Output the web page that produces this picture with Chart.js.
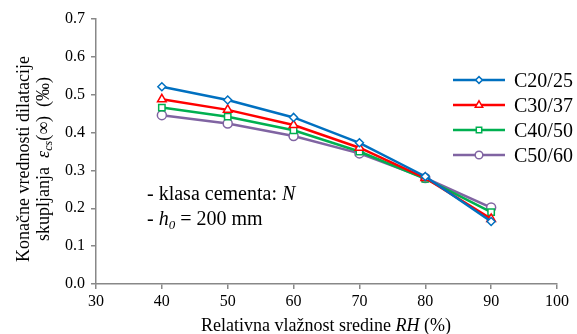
<!DOCTYPE html>
<html>
<head>
<meta charset="utf-8">
<script src="https://cdn.jsdelivr.net/npm/chart.js@4"></script>
<style>
  html, body { margin: 0; padding: 0; background: #fff; }
  #wrap { width: 577px; height: 334px; }
</style>
</head>
<body>
<div id="wrap"><canvas id="shrinkChart" width="577" height="334"></canvas></div>
<script>
// relative humidity RH (%)
const rh = [40, 50, 60, 70, 80, 90];
const c2025 = [0.521, 0.486, 0.440, 0.373, 0.284, 0.165];
const c3037 = [0.488, 0.460, 0.420, 0.360, 0.280, 0.172];
const c4050 = [0.466, 0.442, 0.406, 0.350, 0.278, 0.190];
const c5060 = [0.446, 0.424, 0.391, 0.345, 0.280, 0.202];
const seriesNames = ['C20/25', 'C30/37', 'C40/50', 'C50/60'];
const xTicks = [30, 40, 50, 60, 70, 80, 90, 100];
const yTicks = [0.0, 0.1, 0.2, 0.3, 0.4, 0.5, 0.6, 0.7];

const serif = '"Liberation Serif", "DejaVu Serif", serif';
const axisGray = '#888888';

function pts(vals) {
    return rh.map((x, i) => ({ x: x, y: vals[i] }));
}

function makeSet(label, vals, color, style, radius) {
    return {
        label: label,
        data: pts(vals),
        borderColor: color,
        backgroundColor: '#ffffff',
        pointBorderColor: color,
        pointBackgroundColor: '#ffffff',
        pointStyle: style,
        pointRadius: radius,
        pointBorderWidth: 1.5,
        borderWidth: 2.5,
        tension: 0
    };
}

// draw a run of text pieces [text, font, dy]
function drawRich(ctx, parts, x, y) {
    let cx = x;
    parts.forEach(p => {
        ctx.font = p[1];
        ctx.fillText(p[0], cx, y + (p[2] || 0));
        cx += ctx.measureText(p[0]).width;
    });
    return cx - x;
}
function richWidth(ctx, parts) {
    let w = 0;
    parts.forEach(p => { ctx.font = p[1]; w += ctx.measureText(p[0]).width; });
    return w;
}

const extras = {
    id: 'extras',
    afterDraw(chart) {
        const ctx = chart.ctx;
        ctx.save();
        ctx.fillStyle = '#000';
        ctx.textBaseline = 'alphabetic';
        ctx.textAlign = 'left';

        // legend
        const lx = 453, lw = 52, tx = 514;
        const rows = [80, 105, 130, 155];
        chart.data.datasets.forEach((ds, i) => {
            const y = rows[i];
            ctx.strokeStyle = ds.borderColor;
            ctx.lineWidth = ds.borderWidth;
            ctx.beginPath();
            ctx.moveTo(lx, y);
            ctx.lineTo(lx + lw, y);
            ctx.stroke();
            ctx.lineWidth = ds.pointBorderWidth;
            ctx.fillStyle = '#fff';
            Chart.helpers.drawPoint(ctx, {
                pointStyle: ds.pointStyle,
                radius: ds.pointRadius * 0.85,
                borderWidth: ds.pointBorderWidth
            }, lx + lw / 2, y);
            ctx.fillStyle = '#000';
            ctx.font = '20px ' + serif;
            ctx.fillText(ds.label, tx, y + 7);
        });

        // annotation
        const f = '20px ' + serif;
        const fi = 'italic 20px ' + serif;
        const fs = 'italic 13px ' + serif;
        ctx.fillStyle = '#000';
        drawRich(ctx, [['- klasa cementa: ', f], ['N', fi]], 147, 200);
        drawRich(ctx, [['- ', f], ['h', fi], ['0', fs, 4], [' = 200 mm', f]], 147, 225);

        // x title
        const xt = [['Relativna vlažnost sredine ', '18px ' + serif], ['RH', 'italic 18px ' + serif], [' (%)', '18px ' + serif]];
        const xw = richWidth(ctx, xt);
        drawRich(ctx, xt, 326 - xw / 2, 331);

        // y title (rotated)
        ctx.rotate(-Math.PI / 2);
        const l1 = [['Konačne vrednosti dilatacije', '18px ' + serif]];
        const l2 = [['skupljanja  ', '18px ' + serif], ['ε', 'italic 18px ' + serif],
                    ['cs', 'italic 12px ' + serif, 3], ['(∞)  (‰)', '18px ' + serif]];
        const cy = 159;
        drawRich(ctx, l1, -cy - richWidth(ctx, l1) / 2, 29);
        drawRich(ctx, l2, -cy - richWidth(ctx, l2) / 2, 49);
        ctx.restore();
    }
};

const ctx = document.getElementById('shrinkChart').getContext('2d');
const shrinkChart = new Chart(ctx, {
    type: 'line',
    data: {
        datasets: [
            makeSet(seriesNames[0], c2025, '#0070C0', 'rectRot', 4),
            makeSet(seriesNames[1], c3037, '#FF0000', 'triangle', 5),
            makeSet(seriesNames[2], c4050, '#00B050', 'rect', 4.5),
            makeSet(seriesNames[3], c5060, '#8064A2', 'circle', 4.5)
        ]
    },
    options: {
        responsive: false,
        animation: false,
        devicePixelRatio: 1,
        layout: { padding: { left: 0, right: 20, top: 19, bottom: 0 } },
        plugins: {
            legend: { display: false },
            tooltip: { enabled: false }
        },
        scales: {
            x: {
                type: 'linear',
                min: 30,
                max: 100,
                afterBuildTicks: axis => { axis.ticks = xTicks.map(v => ({ value: v })); },
                afterFit: axis => { axis.height = 50; },
                ticks: {
                    color: '#000',
                    font: { family: serif, size: 16 },
                    padding: 3,
                    maxRotation: 0
                },
                grid: { drawOnChartArea: false, drawTicks: true, tickLength: 5, color: axisGray, lineWidth: 1.5 },
                border: { display: true, color: axisGray, width: 1.5 }
            },
            y: {
                min: 0,
                max: 0.7,
                afterBuildTicks: axis => { axis.ticks = yTicks.map(v => ({ value: v })); },
                afterFit: axis => { axis.width = 96; },
                ticks: {
                    color: '#000',
                    font: { family: serif, size: 16 },
                    padding: 6,
                    callback: v => v.toFixed(1)
                },
                grid: { drawOnChartArea: false, drawTicks: true, tickLength: 5, color: axisGray, lineWidth: 1.5 },
                border: { display: true, color: axisGray, width: 1.5 }
            }
        }
    },
    plugins: [extras]
});
</script>
</body>
</html>
